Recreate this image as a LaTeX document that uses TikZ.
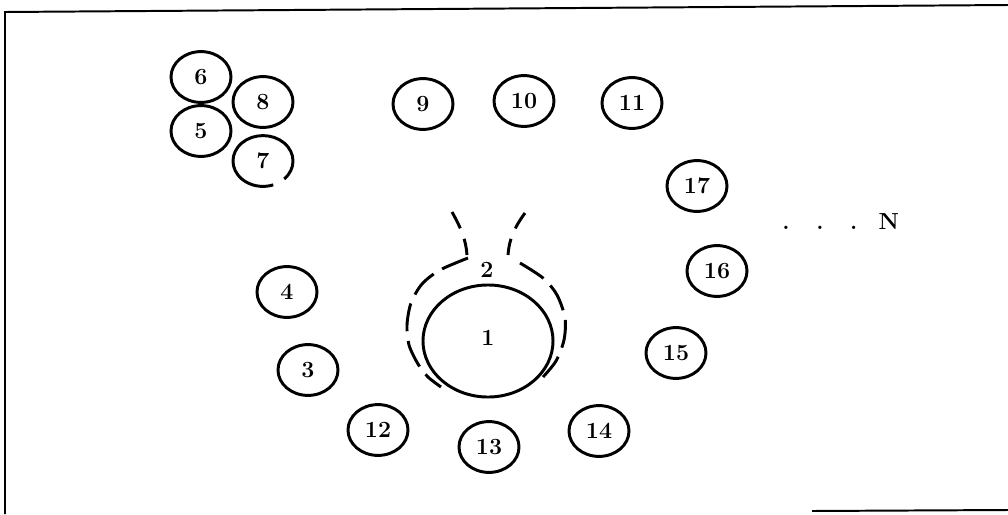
\documentclass[tikz,border=0pt]{standalone}
\usetikzlibrary{shapes.geometric}
\begin{document}
\begin{tikzpicture}[x=0.025cm,y=-0.025cm,
  ring/.style={ellipse,draw,line width=2.1pt,minimum width=1.5cm,minimum height=1.27cm,inner sep=0pt,font=\fontsize{16.5}{19}\selectfont\bfseries},
  lbl/.style={inner sep=0pt,font=\fontsize{16.5}{19}\selectfont\bfseries},
  dashline/.style={line width=2.1pt,dash pattern=on 20pt off 7pt},
  funnel/.style={line width=2.1pt,dash pattern=on 13pt off 8pt},
  frame/.style={line width=1.4pt}]
\useasboundingbox (0,0) rectangle (1008,514);
% frame
\draw[frame] (1008,5) -- (5,12) -- (5,514);
\draw[frame] (812,511) -- (1008,510);
% cluster
\node[ring] (n6) at (201,77) {6};
\node[ring] (n8) at (263,102) {8};
\node[ring] (n5) at (201,131) {5};
\node[ring,draw=none] (n7) at (263,161) {7};
\draw[line width=2.1pt] ([shift={(n7.center)}]-45:0.75cm and 0.635cm) arc[start angle=-45,end angle=290,x radius=0.75cm,y radius=0.635cm];
% top row
\node[ring] (n9) at (423,104) {9};
\node[ring] (n10) at (524,101) {10};
\node[ring] (n11) at (632,103) {11};
% right side
\node[ring] (n17) at (697,186) {17};
\node[ring] (n16) at (717,271) {16};
\node[ring] (n15) at (676,353) {15};
\node[ring] (n14) at (599,431) {14};
\node[ring] (n13) at (489,447) {13};
\node[ring] (n12) at (378,430) {12};
\node[ring] (n3) at (308,370) {3};
\node[ring] (n4) at (287,292) {4};
% central
\node[ellipse,draw,line width=2.1pt,minimum width=3.25cm,minimum height=2.8cm,inner sep=0pt] (n1) at (488,341) {};
\node[lbl] (l1) at (488,338) {1};
\node[lbl] (l2) at (487,270) {2};
% dashed outline
\draw[dashline] plot[smooth] coordinates {(468,258) (440,270) (422,284) (411,303) (407,325) (409,345) (418,364) (428,377) (441,387)};
\draw[dashline] plot[smooth] coordinates {(520,263) (543,278) (557,295) (565,318) (564,340) (556,361) (543,377)};
\draw[funnel] (452,212) .. controls (461,228) and (466,240) .. (467,255);
\draw[funnel] (525,213) .. controls (514,228) and (509,240) .. (508,255);
% N
\node[lbl,anchor=west] (dots) at (782,222) {.\hspace{19pt}.\hspace{19pt}.\hspace{15pt}N};
\end{tikzpicture}
\end{document}
